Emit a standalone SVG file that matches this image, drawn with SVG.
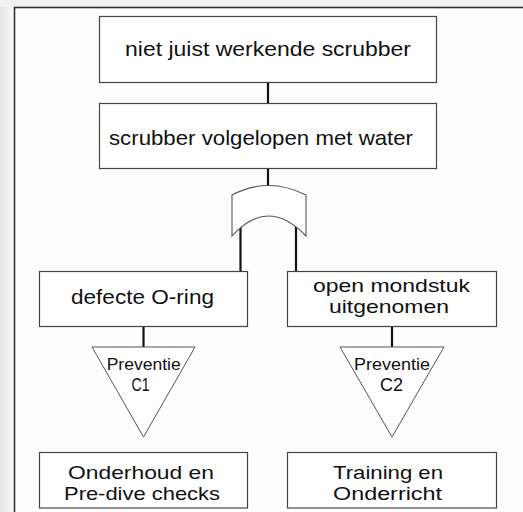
<svg xmlns="http://www.w3.org/2000/svg" width="523" height="512" viewBox="0 0 523 512">
<defs>
<linearGradient id="lg" x1="0" y1="0" x2="1" y2="0">
<stop offset="0" stop-color="#e4e4e4"/>
<stop offset="1" stop-color="#fafafa"/>
</linearGradient>
<style>
.box{fill:#ffffff;stroke:#444;stroke-width:1.2}
.tri{fill:#ffffff;stroke:#555;stroke-width:1}
.gate{fill:#ffffff;stroke:#555;stroke-width:1.1}
.t{font-family:"Liberation Sans",Arial,sans-serif;font-size:21px;fill:#111;text-anchor:middle}
.m{font-family:"Liberation Sans",Arial,sans-serif;font-size:18.5px;fill:#111;text-anchor:middle}
.s{font-family:"Liberation Sans",Arial,sans-serif;font-size:17px;fill:#111;text-anchor:middle}
.c{stroke:#111;stroke-width:2.2;fill:none}
</style>
</defs>
<rect x="0" y="0" width="523" height="512" fill="#f2f2f2"/>
<rect x="0" y="7" width="14" height="505" fill="url(#lg)"/>
<rect x="14.5" y="7.5" width="520" height="520" fill="#fdfdfd" stroke="#333" stroke-width="1.6"/>
<g id="connectors">
<line class="c" x1="268" y1="82" x2="268" y2="103"/>
<line class="c" x1="268" y1="168" x2="268" y2="186"/>
<line class="c" x1="240.5" y1="222" x2="240.5" y2="271"/>
<line class="c" x1="296" y1="222" x2="296" y2="271"/>
<line class="c" x1="143.5" y1="326" x2="143.5" y2="347"/>
<line class="c" x1="392" y1="326" x2="392" y2="347"/>
</g>
<g id="top">
<rect class="box" x="99.5" y="16.5" width="337" height="66"/>
<text class="t" x="268" y="56" textLength="286" lengthAdjust="spacingAndGlyphs">niet juist werkende scrubber</text>
</g>
<g id="scrubber">
<rect class="box" x="99.5" y="103.5" width="337" height="65"/>
<text class="t" x="261" y="145" textLength="304" lengthAdjust="spacingAndGlyphs">scrubber volgelopen met water</text>
</g>
<g id="or-gate">
<path class="gate" d="M232,195 Q268,176 306,195 L306,236 Q268,196 232,236 Z"/>
</g>
<g id="oring">
<rect class="box" x="39.5" y="271.5" width="208" height="55"/>
<text class="t" x="142.5" y="304" textLength="143" lengthAdjust="spacingAndGlyphs">defecte O-ring</text>
</g>
<g id="mondstuk">
<rect class="box" x="287.5" y="271.5" width="209" height="55"/>
<text class="m" x="391.5" y="292" textLength="157" lengthAdjust="spacingAndGlyphs">open mondstuk</text>
<text class="m" x="389" y="313" textLength="120" lengthAdjust="spacingAndGlyphs">uitgenomen</text>
</g>
<g id="c1">
<path class="tri" d="M92,347 L195,347 L143.5,437 Z"/>
<text class="s" x="143.7" y="370" textLength="74" lengthAdjust="spacingAndGlyphs">Preventie</text>
<text class="m" x="140.5" y="391" textLength="18" lengthAdjust="spacingAndGlyphs">C1</text>
</g>
<g id="c2">
<path class="tri" d="M340,347 L444,347 L392,437 Z"/>
<text class="s" x="392" y="370" textLength="76" lengthAdjust="spacingAndGlyphs">Preventie</text>
<text class="m" x="391.5" y="391" textLength="23" lengthAdjust="spacingAndGlyphs">C2</text>
</g>
<g id="onderhoud">
<rect class="box" x="39.5" y="452.5" width="208" height="55.5"/>
<text class="m" x="141" y="479" textLength="146" lengthAdjust="spacingAndGlyphs">Onderhoud en</text>
<text class="m" x="142" y="500" textLength="156" lengthAdjust="spacingAndGlyphs">Pre-dive checks</text>
</g>
<g id="training">
<rect class="box" x="287.5" y="452.5" width="209" height="55.5"/>
<text class="m" x="388" y="479" textLength="110" lengthAdjust="spacingAndGlyphs">Training en</text>
<text class="m" x="387.5" y="500" textLength="109" lengthAdjust="spacingAndGlyphs">Onderricht</text>
</g>
</svg>
